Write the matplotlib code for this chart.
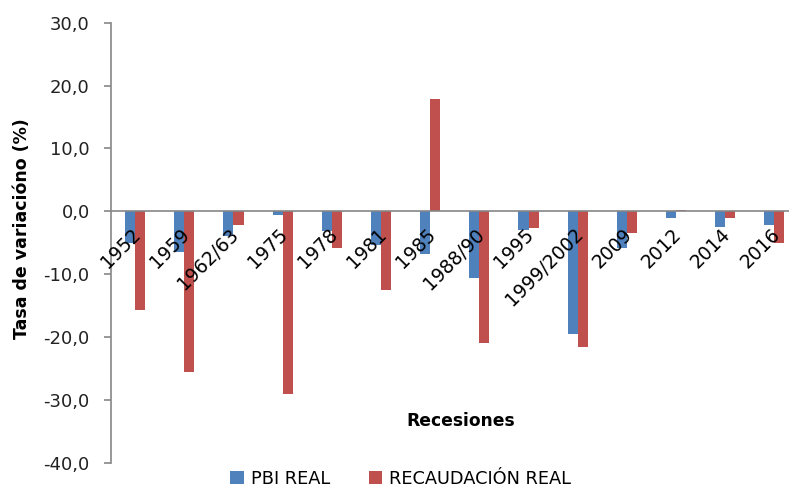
import numpy as np
import matplotlib
matplotlib.use("Agg")
import matplotlib.pyplot as plt
from matplotlib.ticker import FuncFormatter, MultipleLocator
from matplotlib.patches import Patch

# recesiones y tasas de variacion (%)
recesiones = ["1952", "1959", "1962/63", "1975", "1978", "1981", "1985",
              "1988/90", "1995", "1999/2002", "2009", "2012", "2014", "2016"]
pbi_real = [-5.1, -6.4, -4.0, -0.6, -3.2, -5.3, -6.8,
            -10.6, -2.9, -19.5, -5.9, -1.1, -2.5, -2.2]
recaudacion_real = [-15.7, -25.5, -2.2, -29.1, -5.9, -12.5, 17.8,
                    -21.0, -2.7, -21.6, -3.4, 0.2, -1.1, -5.1]

blue = "#4F81BD"
red = "#C0504D"
gray = "#868686"
font_size = 13.5

plt.rcParams['font.family'] = ['DejaVu Sans']
plt.rcParams['axes.unicode_minus'] = False

fig = plt.figure(figsize=(7.89, 4.95), dpi=100)
ax = fig.add_axes([110.5/789, 1-462.7/495, 688.5/789, 440/495])

x = np.arange(len(recesiones))
w = 0.205
ax.bar(x - w/2, pbi_real, width=w, color=blue, zorder=2)
ax.bar(x + w/2, recaudacion_real, width=w, color=red, zorder=2)

ax.axhline(0, color=gray, linewidth=1.2, zorder=3)

ax.set_xlim(-0.5, len(recesiones) - 0.5)
ax.set_ylim(-40, 30)
ax.yaxis.set_major_locator(MultipleLocator(10))
ax.yaxis.set_major_formatter(FuncFormatter(lambda v, pos: f"{v:.1f}".replace(".", ",")))

for s in ["top", "right", "bottom"]:
    ax.spines[s].set_visible(False)
ax.spines["left"].set_color(gray)
ax.spines["left"].set_linewidth(1.2)
ax.tick_params(axis="y", direction="out", length=5, color=gray, width=1.2,
               labelsize=13, pad=10, labelcolor="#222222")
ax.set_xticks([])

# etiquetas de categoria sobre la linea del cero
for i, lab in enumerate(recesiones):
    ax.text(i + 0.05, -3.2, lab, rotation=45, rotation_mode="anchor",
            ha="right", va="center", fontsize=font_size, color="black")

fig.text(22/789, 1-229/495, "Tasa de variacióno (%)", rotation=90,
         ha="center", va="center", fontsize=12.5, fontweight="bold")
fig.text(461/789, 1-421/495, "Recesiones", ha="center", va="center",
         fontsize=12.3, fontweight="bold")

handles = [Patch(facecolor=blue, label="PBI REAL"),
           Patch(facecolor=red, label="RECAUDACIÓN REAL")]
fig.legend(handles=handles, loc="center", bbox_to_anchor=(0.508, 1-479/495),
           ncol=2, frameon=False, fontsize=12.8, handlelength=0.75,
           handleheight=0.75, handletextpad=0.4, columnspacing=2.2)

plt.savefig("out.png", dpi=100)
